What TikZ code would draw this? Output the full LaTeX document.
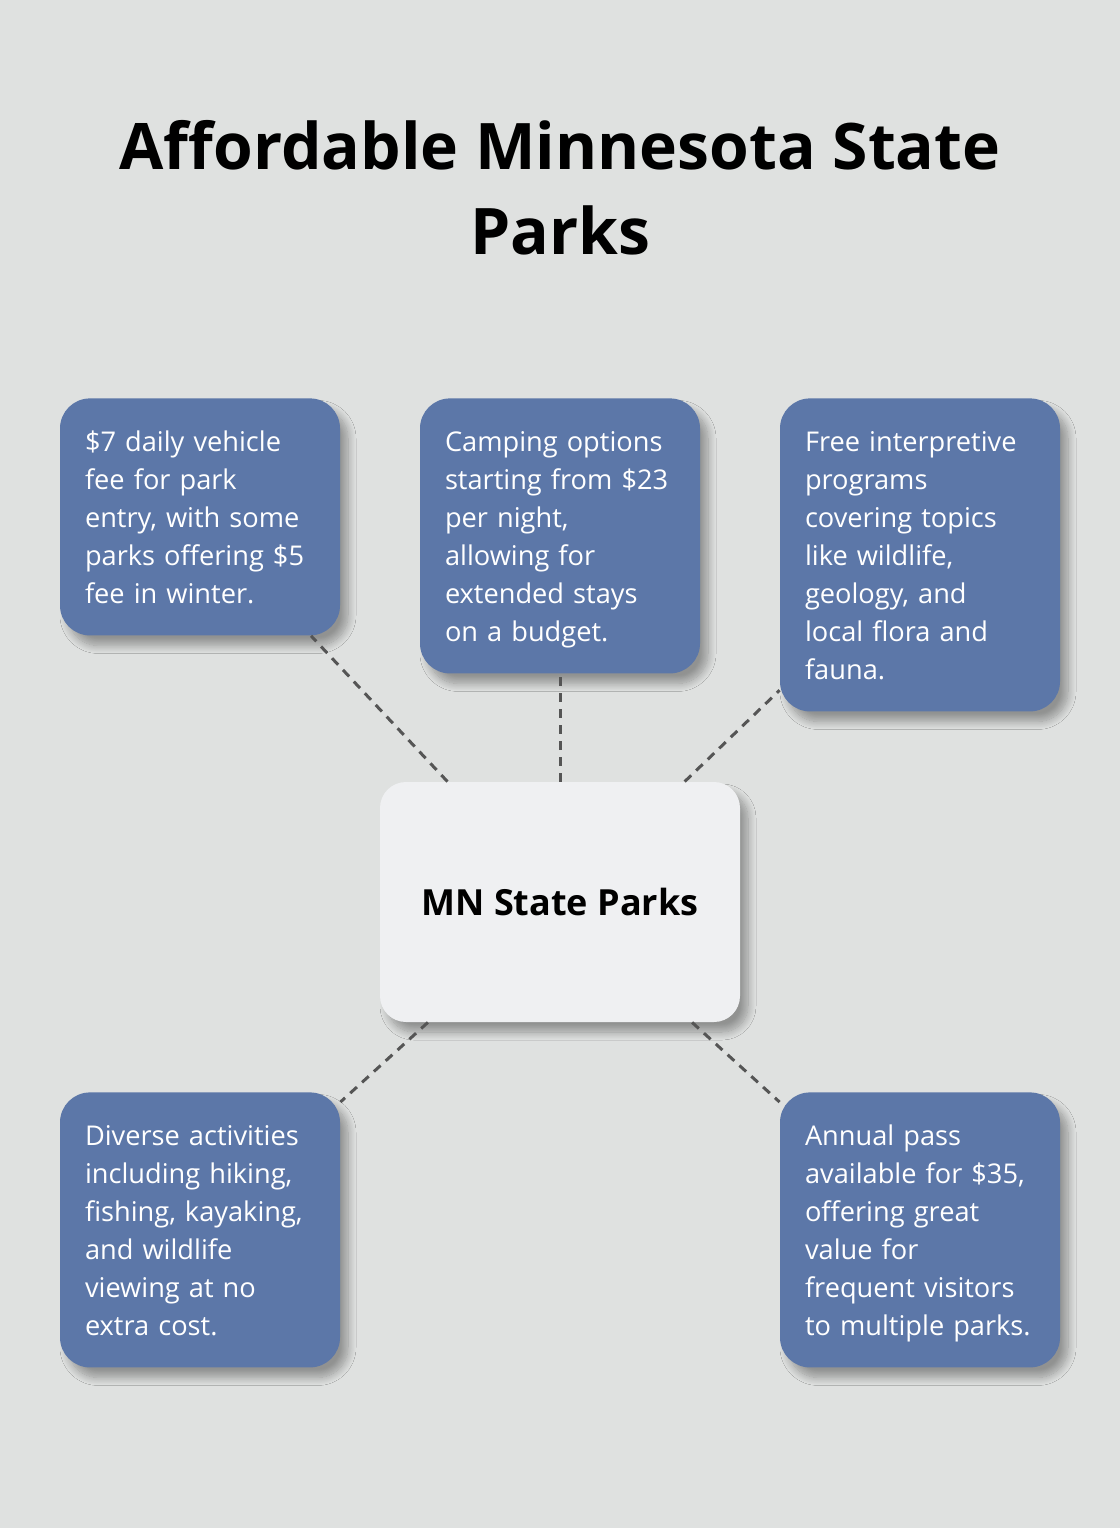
\documentclass[tikz,border=0pt]{standalone}
\usepackage{fontspec}
\setmainfont{Open Sans}
\usetikzlibrary{shadows.blur}
\definecolor{bgcol}{HTML}{DFE1E0}
\definecolor{factblue}{HTML}{5C77A8}
\definecolor{hubfill}{HTML}{EFF0F2}
\definecolor{linkgray}{HTML}{555555}
\newcommand{\linestrut}{\rule[-4pt]{0pt}{18.5pt}}
\begin{document}
\begin{tikzpicture}[x=0.5pt, y=0.5pt,
  soft/.style  = {blur shadow={shadow xshift=4pt, shadow yshift=-5pt, shadow blur radius=4pt,
                  shadow blur steps=12, shadow opacity=35}},
  title/.style = {align=center, inner sep=0pt, font=\bfseries\fontsize{32.1}{42.7}\selectfont},
  fact/.style  = {anchor=north, fill=factblue, text=white, rounded corners=15pt,
                  text width=115pt, inner xsep=12.5pt, inner ysep=12pt, align=left,
                  font=\fontsize{13.6}{19}\selectfont,
                  execute at begin node=\linestrut, execute at end node=\linestrut, soft},
  hub/.style   = {fill=hubfill, rounded corners=13pt, minimum width=180pt, minimum height=120pt,
                  font=\bfseries\fontsize{18}{22}\selectfont, soft},
  link/.style  = {draw=linkgray, line width=1.5pt, dash pattern=on 4.5pt off 3.5pt}]
  \fill[bgcol] (0,0) rectangle (1120,-1528);
  \useasboundingbox (0,0) rectangle (1120,-1528);

  \node[title] (title) at (560,-188) {Affordable Minnesota State\\Parks};

  \node[hub] (parks) at (560,-902) {MN State Parks};

  \node[fact] (fee) at (200,-398) {\$7 daily vehicle\\fee for park\\entry, with some\\parks offering \$5\\fee in winter.};
  \node[fact] (camp) at (560,-398) {Camping options\\starting from \$23\\per night,\\allowing for\\extended stays\\on a budget.};
  \node[fact] (prog) at (920,-398) {Free interpretive\\programs\\covering topics\\like wildlife,\\geology, and\\local flora and\\fauna.};
  \node[fact] (act) at (200,-1092) {Diverse activities\\including hiking,\\fishing, kayaking,\\and wildlife\\viewing at no\\extra cost.};
  \node[fact] (pass) at (920,-1092) {Annual pass\\available for \$35,\\offering great\\value for\\frequent visitors\\to multiple parks.};

  % dashed links from the hub
  \foreach \n in {fee,camp,prog,act,pass}
    \draw[link] (parks) -- (\n);
\end{tikzpicture}
\end{document}
